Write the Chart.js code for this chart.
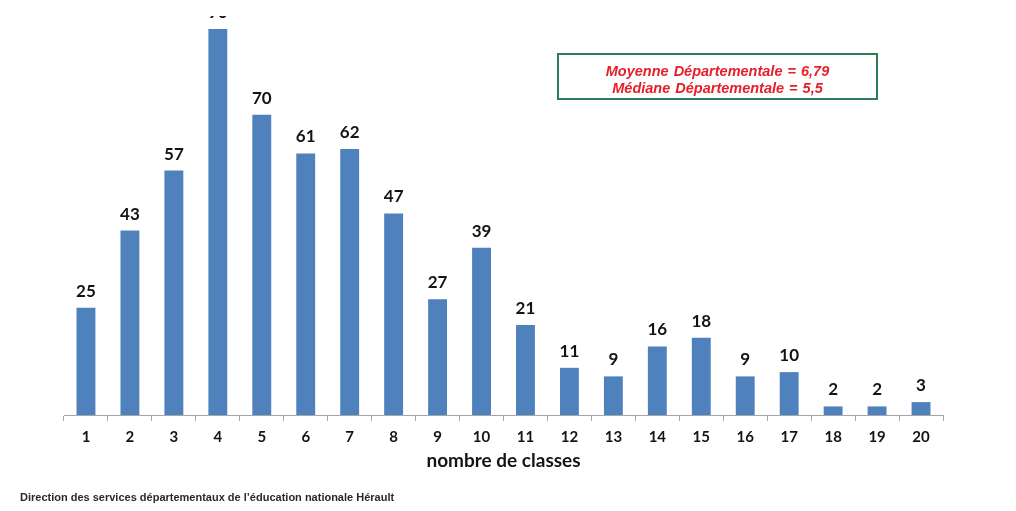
<!DOCTYPE html>
<html>
<head>
<meta charset="utf-8">
<script src="https://cdn.jsdelivr.net/npm/chart.js@4"></script>
<style>
  html, body { margin: 0; padding: 0; background: #fff; }
  body { width: 1016px; height: 511px; position: relative; overflow: hidden; }
  #crop { position: absolute; left: 0; top: 16px; width: 1016px; height: 495px; overflow: hidden; }
  #crop canvas { position: absolute; left: 0; top: -16px; }
  #stats {
    position: absolute; left: 557px; top: 53px; width: 317px; height: 35px;
    border: 2px solid #2f7a57;
    font: italic bold 14.5px "Liberation Sans", Arial, sans-serif; color: #e5202a;
    text-align: center; line-height: 17px; padding-top: 8px; box-sizing: content-box;
  }
  #stats div { word-spacing: 1px; }
  #footer {
    position: absolute; left: 20px; top: 491px;
    font: bold 11px "Liberation Sans", Arial, sans-serif; color: #2a2a2a;
  }
</style>
</head>
<body>
<div id="crop">
  <canvas id="classesChart" width="1016" height="511"></canvas>
</div>
<div id="stats">
  <div>Moyenne Départementale = 6,79</div>
  <div>Médiane Départementale = 5,5</div>
</div>
<div id="footer">Direction des services départementaux de l’éducation nationale Hérault</div>

<script>
// nombre de classes par école
const classLabels = ['1', '2', '3', '4', '5', '6', '7', '8', '9', '10',
                     '11', '12', '13', '14', '15', '16', '17', '18', '19', '20'];
const schoolCounts = [25, 43, 57, 90, 70, 61, 62, 47, 27, 39,
                      21, 11, 9, 16, 18, 9, 10, 2, 2, 3];
const axisTitle = 'nombre de classes';

// draw the value above each bar
const valueLabels = {
  id: 'valueLabels',
  afterDatasetsDraw(chart) {
    const ctx = chart.ctx;
    const meta = chart.getDatasetMeta(0);
    ctx.save();
    ctx.font = 'bold 17px Lato, "Open Sans", sans-serif';
    ctx.fillStyle = '#141414';
    ctx.textAlign = 'center';
    ctx.textBaseline = 'alphabetic';
    meta.data.forEach((bar, i) => {
      ctx.fillText(String(schoolCounts[i]), bar.x, bar.y - 11);
    });
    ctx.restore();
  }
};

const ctx = document.getElementById('classesChart').getContext('2d');
new Chart(ctx, {
  type: 'bar',
  data: {
    labels: classLabels,
    datasets: [{
      data: schoolCounts,
      backgroundColor: '#4f81bd',
      borderWidth: 0,
      categoryPercentage: 1,
      barPercentage: 0.43
    }]
  },
  options: {
    responsive: false,
    animation: false,
    layout: { padding: { left: 64, right: 73, top: 29, bottom: 37 } },
    plugins: {
      legend: { display: false },
      tooltip: { enabled: false }
    },
    scales: {
      y: {
        display: false,
        min: 0,
        max: 90
      },
      x: {
        border: { color: '#a6a6a6', width: 1 },
        grid: {
          offset: true,
          drawOnChartArea: false,
          tickLength: 6,
          color: '#a6a6a6'
        },
        ticks: {
          padding: 7,
          color: '#141414',
          font: { family: 'Lato, "Open Sans", sans-serif', size: 15, weight: 'bold' }
        },
        title: {
          display: true,
          text: axisTitle,
          color: '#141414',
          padding: { top: -2, bottom: 4 },
          font: { family: 'Lato, "Open Sans", sans-serif', size: 19, weight: 'bold', lineHeight: 1 }
        }
      }
    }
  },
  plugins: [valueLabels]
});
</script>
</body>
</html>
